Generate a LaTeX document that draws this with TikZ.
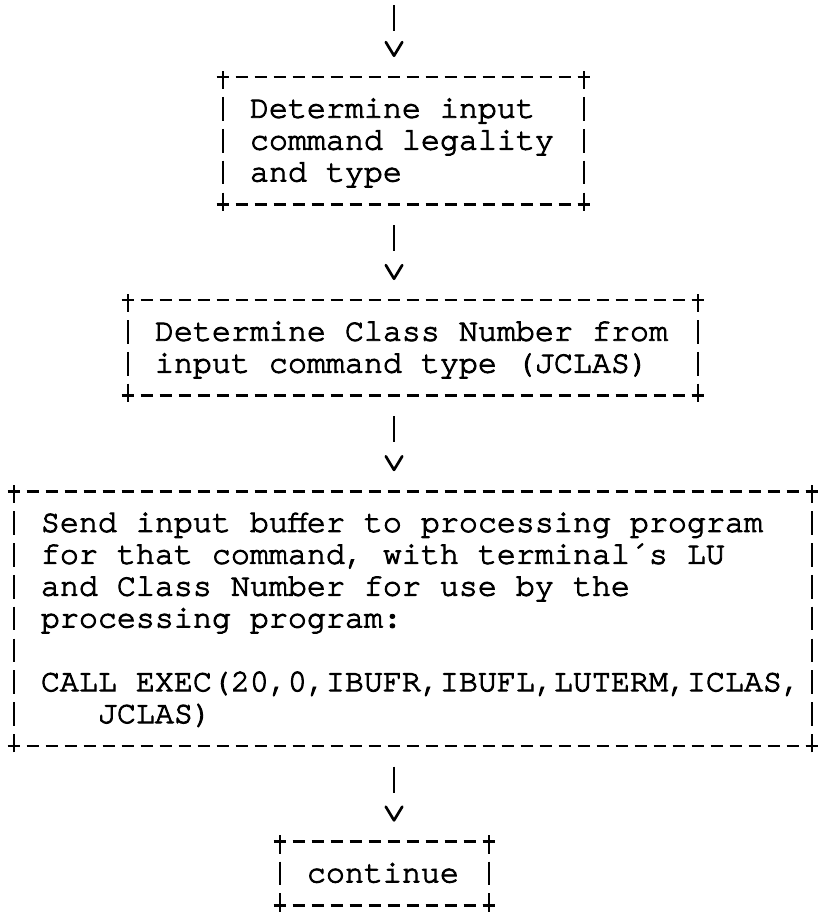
\documentclass[tikz,border=0pt]{standalone}
\usepackage{fontspec}
\setmonofont{TeX Gyre Cursor}[FakeBold=3]
\usetikzlibrary{arrows.meta,positioning}

\begin{document}
\begin{tikzpicture}[
    box/.style={inner ysep=0pt, inner xsep=8.5pt, outer sep=0pt, align=left,
      font=\ttfamily\fontsize{10}{10.06}\selectfont, text height=7.83pt,
      execute at begin node={\spaceskip=6pt\xspaceskip=6pt\relax}},
    arrow/.style={-{Straight Barb[length=4.3pt, width=5.2pt, round]}, line width=0.85pt,
      dash pattern=on 8.3pt off 40pt, shorten <=6.5pt, shorten >=6.3pt},
    hrule/.style={line width=0.85pt, dash pattern=on 4pt off 2pt, dash phase=2pt},
    vrule/.style={line width=0.85pt, dash pattern=on 7.5pt off 2.56pt, dash phase=3.75pt},
    plus/.style={line width=0.85pt}
]
    \useasboundingbox (0,0) rectangle (258.5pt,-288.3pt);
    \coordinate (entry) at (124.42pt,-1.6pt);

    \node[box, text width=97pt, text depth=22.35pt, minimum height=40.24pt] (legal) at (127.42pt,-44.44pt)
        {Determine input\\command legality\\and type};
    \node[box, text width=163pt, text depth=12.29pt, minimum height=30.18pt,
        below=30.18pt of legal, xshift=3pt] (classno)
        {Determine Class Number from\\input command type (JCLAS)};
    \node[box, inner xsep=2.5pt, text width=247pt, text depth=62.59pt, minimum height=80.48pt,
        below=30.18pt of classno] (exec)
        {~Send input buffer to processing program\\~for that command, with terminal´s LU\\
         ~and Class Number for use by the\\~processing program:\\ \mbox{}\\
         ~CALL EXEC(20,0,IBUFR,IBUFL,LUTERM,ICLAS,\\~~~~JCLAS)};
    \node[box, text width=49pt, text depth=2.23pt, minimum height=20.12pt,
        below=30.18pt of exec, xshift=-9pt] (cont) {continue};

    % ascii style frames
    \foreach \b in {legal,classno,exec,cont} {
        \draw[hrule] (\b.north west) -- (\b.north east) (\b.south west) -- (\b.south east);
        \draw[vrule] (\b.north west) -- (\b.south west) (\b.north east) -- (\b.south east);
        \foreach \c in {north west,north east,south west,south east}
            \draw[plus] (\b.\c) +(-2pt,0) -- +(2pt,0) +(0,-2pt) -- +(0,2pt);
    }

    \draw[arrow, shorten <=0pt] (entry) -- (legal.north -| entry);
    \draw[arrow] (legal.south -| entry) -- (classno.north -| entry);
    \draw[arrow] (classno.south -| entry) -- (exec.north -| entry);
    \draw[arrow] (exec.south -| entry) -- (cont.north -| entry);
\end{tikzpicture}
\end{document}
